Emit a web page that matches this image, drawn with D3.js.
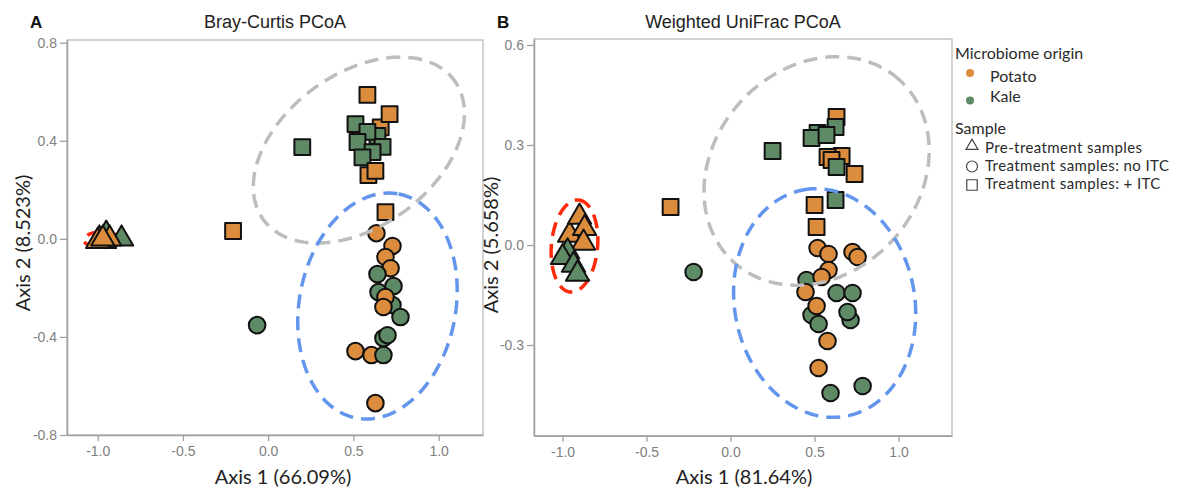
<!DOCTYPE html>
<html><head><meta charset="utf-8">
<script src="https://cdn.jsdelivr.net/npm/d3@7"></script>
<style>body{margin:0;background:#fff}</style>
</head><body>
<svg id="c" width="1185" height="488"></svg>
<script>
// ---------- data ----------
const originNames = ["Potato", "Kale"];
const originColors = ["#DC8C3D", "#5E8B66"];
const sampleNames = ["Pre-treatment samples", "Treatment samples: no ITC", "Treatment samples: + ITC"];
const bcXTicks = [-1.0, -0.5, 0.0, 0.5, 1.0];
const bcYTicks = [-0.8, -0.4, 0.0, 0.4, 0.8];
const wuXTicks = [-1.0, -0.5, 0.0, 0.5, 1.0];
const wuYTicks = [-0.3, 0.0, 0.3, 0.6];

// Bray-Curtis points: [axis1, axis2, origin]
const bcPre = [
  [-0.96, -0.01, "Kale"], [-0.95, 0.02, "Kale"], [-0.86, 0.0, "Kale"],
  [-0.99, 0.0, "Kale"], [-0.93, 0.0, "Potato"], [-1.00, -0.01, "Potato"], [-0.97, 0.0, "Potato"]
];
const bcNoITC = [
  [-0.065, -0.352, "Kale"],
  [0.635, 0.023, "Potato"], [0.729, -0.029, "Potato"], [0.688, -0.074, "Potato"], [0.718, -0.120, "Potato"],
  [0.641, -0.144, "Kale"], [0.735, -0.193, "Kale"], [0.647, -0.217, "Kale"],
  [0.729, -0.270, "Kale"], [0.688, -0.237, "Potato"], [0.676, -0.278, "Potato"],
  [0.776, -0.319, "Kale"], [0.676, -0.405, "Kale"], [0.700, -0.393, "Kale"],
  [0.512, -0.458, "Potato"], [0.606, -0.474, "Potato"], [0.676, -0.474, "Kale"],
  [0.629, -0.670, "Potato"]
];
const bcITC = [
  [-0.206, 0.032, "Potato"], [0.688, 0.109, "Potato"], [0.200, 0.374, "Kale"],
  [0.660, 0.455, "Potato"],
  [0.582, 0.587, "Potato"], [0.712, 0.509, "Potato"],
  [0.512, 0.468, "Kale"], [0.641, 0.420, "Kale"], [0.582, 0.436, "Kale"],
  [0.524, 0.395, "Kale"], [0.671, 0.375, "Kale"], [0.612, 0.354, "Kale"], [0.553, 0.332, "Kale"],
  [0.588, 0.260, "Potato"], [0.629, 0.277, "Potato"]
];

// Weighted UniFrac points: [axis1, axis2, origin]
const wuPre = [
  [-0.958, 0.030, "Potato"], [-0.899, 0.084, "Potato"], [-0.869, 0.050, "Potato"],
  [-0.875, 0.006, "Potato"], [-0.97, -0.020, "Kale"], [-1.000, -0.037, "Kale"],
  [-0.935, -0.060, "Kale"], [-0.911, -0.087, "Kale"]
];
const wuNoITC = [
  [-0.220, -0.081, "Kale"],
  [0.518, -0.009, "Potato"], [0.583, -0.027, "Potato"], [0.726, -0.021, "Potato"], [0.756, -0.036, "Potato"],
  [0.583, -0.075, "Potato"], [0.452, -0.105, "Kale"], [0.542, -0.096, "Potato"], [0.446, -0.141, "Potato"],
  [0.631, -0.144, "Kale"], [0.726, -0.144, "Kale"], [0.482, -0.210, "Kale"], [0.512, -0.183, "Potato"],
  [0.714, -0.225, "Kale"], [0.696, -0.201, "Kale"], [0.524, -0.237, "Kale"],
  [0.577, -0.288, "Potato"], [0.524, -0.369, "Potato"], [0.786, -0.423, "Kale"], [0.595, -0.444, "Kale"]
];
const wuITC = [
  [-0.357, 0.114, "Potato"], [0.250, 0.282, "Kale"],
  [0.631, 0.384, "Potato"], [0.625, 0.354, "Kale"], [0.518, 0.336, "Kale"], [0.482, 0.321, "Kale"],
  [0.571, 0.330, "Kale"], [0.661, 0.267, "Potato"], [0.577, 0.264, "Potato"], [0.601, 0.255, "Potato"],
  [0.631, 0.234, "Kale"], [0.738, 0.213, "Potato"], [0.500, 0.120, "Potato"], [0.625, 0.135, "Kale"],
  [0.512, 0.054, "Potato"]
];

// ellipses: [centre1, centre2, axisU1, axisU2, axisV1, axisV2, group]
const bcEllipses = [
  [0.532, 0.362, 0.533, 0.306, 0.315, -0.224, "ITC"],
  [0.641, -0.274, 0.1235, 0.457, 0.451, -0.0588, "noITC"]
];
const bcPreEllipse = [[-0.976, -0.004, 0.105, 0.0, 0.0, 0.032, "pre"]];
const wuEllipses = [
  [0.512, 0.222, 0.463, 0.286, 0.4845, -0.189, "ITC"],
  [0.560, -0.174, -0.131, 0.339, 0.526, 0.0516, "noITC"]
];
const wuPreEllipse = [[-0.929, -0.003, 0.024, 0.138, 0.137, -0.006, "pre"]];
const ellipseColors = { ITC: "#BDBDBD", noITC: "#6495ED", pre: "#FF2A0A" };

// ---------- drawing ----------
const svg = d3.select("#c");
const color = d3.scaleOrdinal().domain(originNames).range(originColors);
const tickFmt = d => d.toFixed(1);
const tSteps = d3.range(0, 2 * Math.PI + 0.001, Math.PI / 90);

function drawPanel(cfg) {
  const x = d3.scaleLinear().domain(cfg.xDomain).range([cfg.left, cfg.right]);
  const y = d3.scaleLinear().domain(cfg.yDomain).range([cfg.bottom, cfg.top]);
  const g = svg.append("g");

  g.append("rect").attr("x", cfg.left).attr("y", cfg.top)
    .attr("width", cfg.right - cfg.left).attr("height", cfg.bottom - cfg.top)
    .attr("fill", "none").attr("stroke", "#B5B5B5").attr("stroke-width", 1.2);

  const xa = g.append("g").attr("transform", `translate(0,${cfg.bottom})`)
    .call(d3.axisBottom(x).tickValues(cfg.xTicks).tickFormat(tickFmt).tickSize(6).tickPadding(5).tickSizeOuter(0));
  const ya = g.append("g").attr("transform", `translate(${cfg.left},0)`)
    .call(d3.axisLeft(y).tickValues(cfg.yTicks).tickFormat(tickFmt).tickSize(7).tickPadding(3).tickSizeOuter(0));
  [xa, ya].forEach(a => {
    a.select(".domain").attr("stroke", "#A0A0A0").attr("stroke-width", 1.5);
    a.selectAll(".tick line").attr("stroke", "#A0A0A0").attr("stroke-width", 1.3);
    a.selectAll(".tick text").attr("fill", "#808080").attr("font-size", 14)
      .attr("font-family", "Liberation Sans, Arial, sans-serif");
  });

  const ellPath = e => d3.line()(tSteps.map(t => [
    x(e[0] + e[2] * Math.cos(t) + e[4] * Math.sin(t)),
    y(e[1] + e[3] * Math.cos(t) + e[5] * Math.sin(t))
  ]));
  const drawEll = (arr) => g.append("g").selectAll("path").data(arr).join("path")
    .attr("d", ellPath).attr("fill", "none")
    .attr("stroke", e => ellipseColors[e[6]]).attr("stroke-width", 3.5)
    .attr("stroke-dasharray", "14 8");

  drawEll(cfg.preEllipse);

  const tri = d3.symbol(d3.symbolTriangle, 235)();
  const sq = d3.symbol(d3.symbolSquare, 250)();
  g.append("g").selectAll("path").data(cfg.pre).join("path")
    .attr("d", tri).attr("transform", d => `translate(${x(d[0])},${y(d[1])})`)
    .attr("fill", d => color(d[2])).attr("stroke", "#111").attr("stroke-width", 2)
    .attr("stroke-linejoin", "round");
  g.append("g").selectAll("circle").data(cfg.noITC).join("circle")
    .attr("cx", d => x(d[0])).attr("cy", d => y(d[1])).attr("r", 8.3)
    .attr("fill", d => color(d[2])).attr("stroke", "#111").attr("stroke-width", 2);
  g.append("g").selectAll("path").data(cfg.ITC).join("path")
    .attr("d", sq).attr("transform", d => `translate(${x(d[0])},${y(d[1])})`)
    .attr("fill", d => color(d[2])).attr("stroke", "#111").attr("stroke-width", 2)
    .attr("stroke-linejoin", "round");

  drawEll(cfg.ellipses);

  g.append("text").attr("x", cfg.letterX).attr("y", 28).text(cfg.letter)
    .attr("font-family", "Liberation Sans, Arial, sans-serif").attr("font-weight", "bold")
    .attr("font-size", 17).attr("fill", "#111");
  g.append("text").attr("x", cfg.titleX).attr("y", 28).attr("text-anchor", "middle").text(cfg.title)
    .attr("font-family", "Liberation Sans, Arial, sans-serif").attr("font-size", 18).attr("fill", "#222");
  g.append("text").attr("x", cfg.xLabelX).attr("y", 484).attr("text-anchor", "middle").text(cfg.xLabel)
    .attr("font-family", "Lato, sans-serif").attr("font-size", 20).attr("fill", "#222");
  g.append("text").attr("transform", `translate(${cfg.yLabelX},${cfg.yLabelY}) rotate(-90)`)
    .attr("text-anchor", "middle").text(cfg.yLabel)
    .attr("font-family", "Lato, sans-serif").attr("font-size", 20).attr("fill", "#222");
}

drawPanel({
  left: 67, right: 483, top: 40, bottom: 435,
  xDomain: [-1.18, 1.26], yDomain: [-0.8, 0.811],
  xTicks: bcXTicks, yTicks: bcYTicks,
  pre: bcPre, noITC: bcNoITC, ITC: bcITC,
  ellipses: bcEllipses, preEllipse: bcPreEllipse,
  letter: "A", letterX: 30, title: "Bray-Curtis PCoA", titleX: 275,
  xLabel: "Axis 1 (66.09%)", xLabelX: 283,
  yLabel: "Axis 2 (8.523%)", yLabelX: 30, yLabelY: 243
});
drawPanel({
  left: 534, right: 952, top: 39, bottom: 435.7,
  xDomain: [-1.17, 1.318], yDomain: [-0.572, 0.618],
  xTicks: wuXTicks, yTicks: wuYTicks,
  pre: wuPre, noITC: wuNoITC, ITC: wuITC,
  ellipses: wuEllipses, preEllipse: wuPreEllipse,
  letter: "B", letterX: 497, title: "Weighted UniFrac PCoA", titleX: 743,
  xLabel: "Axis 1 (81.64%)", xLabelX: 744,
  yLabel: "Axis 2 (5.658%)", yLabelX: 498, yLabelY: 245
});

// legend
const lg = svg.append("g").attr("font-family", "Lato, sans-serif").attr("font-size", 16).attr("fill", "#2a2a2a");
lg.append("text").attr("x", 955).attr("y", 59).text("Microbiome origin");
const originRows = originNames.map((n, i) => ({ n, c: originColors[i], y: [82, 102][i], dy: [73, 100.5][i] }));
lg.selectAll(".od").data(originRows).join("circle").attr("cx", 970).attr("cy", d => d.dy).attr("r", 4)
  .attr("fill", d => d.c);
lg.selectAll(".ot").data(originRows).join("text").attr("x", 990).attr("y", d => d.y).text(d => d.n);
lg.append("text").attr("x", 955).attr("y", 134).text("Sample");
const sampleRows = sampleNames.map((n, i) => ({ n, i, y: [153, 171, 189][i], sy: [146, 166.5, 185][i] }));
const legendSym = [d3.symbol(d3.symbolTriangle, 62)(), null, d3.symbol(d3.symbolSquare, 110)()];
sampleRows.forEach(r => {
  if (r.i === 1) {
    lg.append("circle").attr("cx", 972).attr("cy", r.sy).attr("r", 5.5)
      .attr("fill", "none").attr("stroke", "#444").attr("stroke-width", 1.2);
  } else {
    lg.append("path").attr("d", legendSym[r.i]).attr("transform", `translate(972,${r.sy})`)
      .attr("fill", "none").attr("stroke", "#444").attr("stroke-width", 1.2);
  }
  lg.append("text").attr("x", 985).attr("y", r.y).text(r.n)
    .attr("font-size", 15).attr("letter-spacing", 0.4);
});
</script>
</body></html>
